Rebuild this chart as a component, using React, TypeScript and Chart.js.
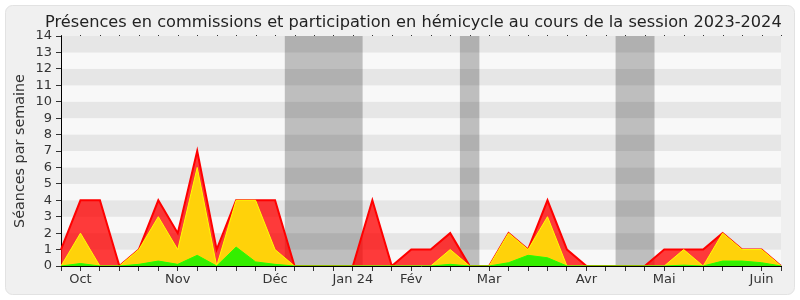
import React, { useEffect, useRef } from "react";
import { Chart, registerables } from "chart.js";

Chart.register(...registerables);

const weekLabels = [
  "", "Oct", "", "", "", "", "Nov", "", "", "", "", "Déc", "", "", "", "Jan 24",
  "", "", "Fév", "", "", "", "Mar", "", "", "", "", "Avr", "", "", "", "Mai",
  "", "", "", "", "Juin", "",
];

const presences = [1, 4, 4, 0, 1, 4, 2, 7, 1, 4, 4, 4, 0, 0, 0, 0, 4, 0, 1, 1, 2, 0, 0, 2, 1, 4, 1, 0, 0, 0, 0, 1, 1, 1, 2, 1, 1, 0];
const commissions = [0, 2, 0, 0, 1, 3, 1, 6, 0, 4, 4, 1, 0, 0, 0, 0, 0, 0, 0, 0, 1, 0, 0, 2, 1, 3, 0, 0, 0, 0, 0, 0, 1, 0, 2, 1, 1, 0];
const interventions = [0, 0.15, 0, 0, 0.1, 0.3, 0.1, 0.65, 0, 1.15, 0.25, 0.1, 0, 0, 0, 0, 0, 0, 0, 0, 0.1, 0, 0, 0.2, 0.65, 0.5, 0, 0, 0, 0, 0, 0, 0.05, 0, 0.3, 0.3, 0.2, 0];

const vacationStarts = [11.5, 20.5, 28.5];
const vacationEnds = [15.5, 21.5, 30.5];

const yTicks = [0, 14];

const titleText = "Présences en commissions et participation en hémicycle au cours de la session 2023-2024";
const yTitleText = "Séances par semaine";
const FONT = "'DejaVu Sans', sans-serif";

function fitSize(ctx: CanvasRenderingContext2D, text: string, target: number) {
  ctx.font = `100px ${FONT}`;
  const w = ctx.measureText(text).width;
  return (100 * target) / w;
}

const decorPlugin = {
  id: "decor",
  beforeDraw(chart: any) {
    const { ctx, chartArea, scales } = chart;
    const { left, right, top, bottom } = chartArea;
    ctx.save();
    ctx.fillStyle = "#ffffff";
    ctx.fillRect(0, 0, chart.width, chart.height);
    ctx.beginPath();
    (ctx as any).roundRect(5.5, 5.5, 789, 289, 7);
    ctx.fillStyle = "#f0f0f0";
    ctx.fill();
    ctx.strokeStyle = "#e2e2e2";
    ctx.lineWidth = 1;
    ctx.stroke();
    const y = scales.y;
    for (let k = yTicks[0]; k < yTicks[1]; k++) {
      const y0 = y.getPixelForValue(k);
      const y1 = y.getPixelForValue(k + 1);
      ctx.fillStyle = k % 2 === 1 ? "#e6e6e6" : "#f8f8f8";
      ctx.fillRect(left, y1, right - left, y0 - y1);
    }
    const x = scales.x;
    ctx.fillStyle = "rgba(0,0,0,0.23)";
    for (let i = 0; i < vacationStarts.length; i++) {
      const x0 = x.getPixelForValue(vacationStarts[i]);
      const x1 = x.getPixelForValue(vacationEnds[i]);
      ctx.fillRect(x0, top, x1 - x0, bottom - top);
    }
    ctx.fillStyle = "#333";
    for (let i = 0; i < weekLabels.length; i++) {
      const px = Math.round(x.getPixelForValue(i));
      ctx.fillRect(px, top - 1, 1, 1);
    }
    ctx.restore();
  },
  afterDraw(chart: any) {
    const { ctx, chartArea } = chart;
    ctx.save();
    ctx.fillStyle = "#222";
    const ts = fitSize(ctx, titleText, 737);
    ctx.font = `${ts}px ${FONT}`;
    ctx.textAlign = "left";
    ctx.textBaseline = "alphabetic";
    ctx.fillText(titleText, 45, 27);
    const ys = fitSize(ctx, yTitleText, 154);
    ctx.font = `${ys}px ${FONT}`;
    ctx.translate(24, (chartArea.top + chartArea.bottom) / 2);
    ctx.rotate(-Math.PI / 2);
    ctx.textAlign = "center";
    ctx.fillStyle = "#333";
    ctx.fillText(yTitleText, 0, 0);
    ctx.restore();
  },
};

export default function App() {
  const ref = useRef<HTMLCanvasElement | null>(null);
  useEffect(() => {
    if (!ref.current) return;
    const chart = new Chart(ref.current, {
      type: "line",
      data: {
        labels: weekLabels,
        datasets: [
          {
            label: "Interventions",
            data: interventions,
            borderColor: "#22ff00",
            backgroundColor: "rgb(52,238,0)",
            borderWidth: 1,
            fill: "origin",
            pointRadius: 0,
            tension: 0,
          },
          {
            label: "Commissions",
            data: commissions,
            borderColor: "#ffff00",
            backgroundColor: "rgb(255,210,10)",
            borderWidth: 1,
            fill: "origin",
            pointRadius: 0,
            tension: 0,
          },
          {
            label: "Présences",
            data: presences,
            borderColor: "#ff0000",
            backgroundColor: "rgba(255,0,0,0.77)",
            borderWidth: 2,
            fill: "origin",
            pointRadius: 0,
            tension: 0,
          },
        ],
      },
      options: {
        animation: false,
        responsive: false,
        devicePixelRatio: 1,
        layout: { padding: { top: 36, right: 19, left: 0, bottom: 0 } },
        plugins: {
          legend: { display: false },
          title: { display: false },
          tooltip: { enabled: false },
        },
        scales: {
          x: {
            type: "category",
            offset: false,
            grid: { display: true, drawOnChartArea: false, tickLength: 5, color: "#333" },
            border: { display: true, color: "#000" },
            ticks: {
              autoSkip: false,
              maxRotation: 0,
              color: "#333",
              padding: 1,
              font: { family: FONT, size: 13 },
            },
            afterFit(scale: any) {
              scale.height = 34;
            },
          },
          y: {
            type: "linear",
            min: yTicks[0],
            max: yTicks[1],
            grid: { display: true, drawOnChartArea: false, tickLength: 5, color: "#333" },
            border: { display: true, color: "#000" },
            ticks: {
              stepSize: 1,
              autoSkip: false,
              maxTicksLimit: 30,
              color: "#333",
              padding: 4,
              font: { family: FONT, size: 13 },
            },
            afterFit(scale: any) {
              scale.width = 61;
            },
          },
        },
      },
      plugins: [decorPlugin],
    });
    return () => chart.destroy();
  }, []);
  return (
    <div style={{ position: "absolute", left: 0, top: 0, width: 800, height: 300 }}>
      <canvas ref={ref} width={800} height={300} style={{ display: "block", width: 800, height: 300 }} />
    </div>
  );
}
